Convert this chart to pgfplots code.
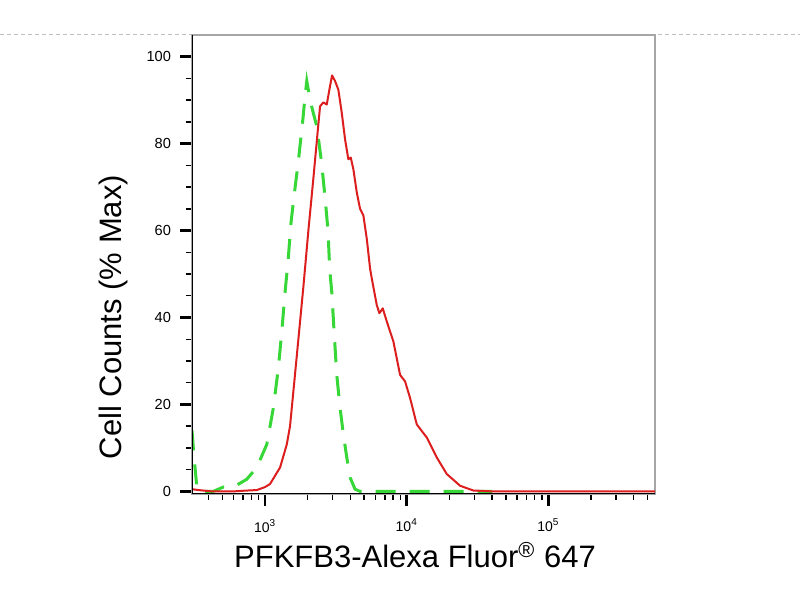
\documentclass[border=0pt]{standalone}
\usepackage{fontspec}
\setmainfont{Liberation Sans}
\usepackage{pgfplots}
\pgfplotsset{compat=1.18}
\definecolor{redc}{RGB}{220,30,30}
\definecolor{greenc}{RGB}{55,215,55}
\begin{document}
\begin{tikzpicture}
\useasboundingbox (0,0) rectangle (400pt,300pt);
\fill[white] (0,0) rectangle (400pt,300pt);
\draw[gray!50, dash pattern=on 2pt off 1.5pt, line width=0.5pt] (0,282.5pt) -- (400pt,282.5pt);
\begin{axis}[
 at={(96pt,53pt)}, anchor=south west,
 scale only axis, width=231.5pt, height=229.5pt,
 xmode=log, xmin=305, xmax=565000,
 ymin=-0.6, ymax=105,
 xtick={1000,10000,100000},
 xticklabels={10\textsuperscript{3},10\textsuperscript{4},10\textsuperscript{5}},
 minor xtick={400,500,600,700,800,900,2000,3000,4000,5000,6000,7000,8000,9000,20000,30000,40000,50000,60000,70000,80000,90000,200000,300000,400000,500000},
 ytick={0,20,40,60,80,100},
 minor ytick={5,10,15,25,30,35,45,50,55,65,70,75,85,90,95},
 tick pos=left, tick align=outside,
 major tick length=6pt, minor tick length=3pt,
 every major tick/.append style={line width=1.4pt, black},
 every minor tick/.append style={line width=0.7pt, black},
 axis line style={gray!70, line width=0.6pt},
 /pgf/number format/assume math mode=true,
 yticklabel style={font=\fontsize{7.3}{8}\selectfont, xshift=-1pt},
 xticklabel style={font=\fontsize{7}{8}\selectfont, yshift=-3pt},
 xlabel={PFKFB3-Alexa Fluor\textsuperscript{\textregistered} 647},
 ylabel={Cell Counts (\% Max)},
 label style={font=\fontsize{15.5}{18}\selectfont},
 xlabel style={at={(axis description cs:0.4816,-0.133)}, anchor=center},
 ylabel style={at={(axis description cs:-0.1706,0.3856)}, anchor=center},
]
\addplot[greenc, line width=1.5pt, dash pattern=on 10pt off 7pt] coordinates {
(305,14) (315,8) (330,1) (338,0) (431,0) (508,1) (614,1.2) (743,2.8) (874,5.5)
(1028,10.8) (1144,19.2) (1241,28.4) (1312,36.8) (1384,45.9) (1453,53) (1526,62)
(1602,68) (1718,76) (1854,86) (1916,91) (1970,94.4) (2078,90) (2192,87) (2317,84)
(2497,76) (2651,67.6) (2780,60) (2860,51) (2956,45.9) (3069,36.8) (3206,26.8)
(3383,19.2) (3570,13.1) (3773,7.8) (3980,3.2) (4317,0.5) (4682,0) (40000,0)
};
\addplot[redc, line width=1pt, line join=round] coordinates {
(305,0.5) (340,0.3) (420,0) (600,0) (750,0.2) (874,0.3) (1000,1.0) (1084,1.7)
(1276,5.5) (1423,10.8) (1500,15) (1584,23) (1718,35) (1863,47) (1947,54) (2021,60)
(2192,72) (2339,82) (2444,88.6) (2579,89.5) (2725,89.0) (2843,92.4) (2970,95.7)
(3119,94.4) (3291,92.4) (3477,87.1) (3669,81.0) (3871,76.4) (4025,76.8) (4200,74.1)
(4438,68.8) (4682,65.0) (4940,63.5) (5222,58.1) (5508,51.3) (5662,49.0) (6140,42.9)
(6407,41.0) (6770,42.1) (7226,39.1) (8043,34.5) (8968,26.8) (9727,25.3) (10551,21.5)
(11767,15.4) (13840,12.4) (16280,7.8) (19160,4.0) (23780,1.3) (29510,0.2) (40000,0)
(565000,0)
};
\draw[black, line width=0.8pt] (rel axis cs:0,1) -- (rel axis cs:0,0) -- (rel axis cs:1,0);
\end{axis}
\end{tikzpicture}
\end{document}
